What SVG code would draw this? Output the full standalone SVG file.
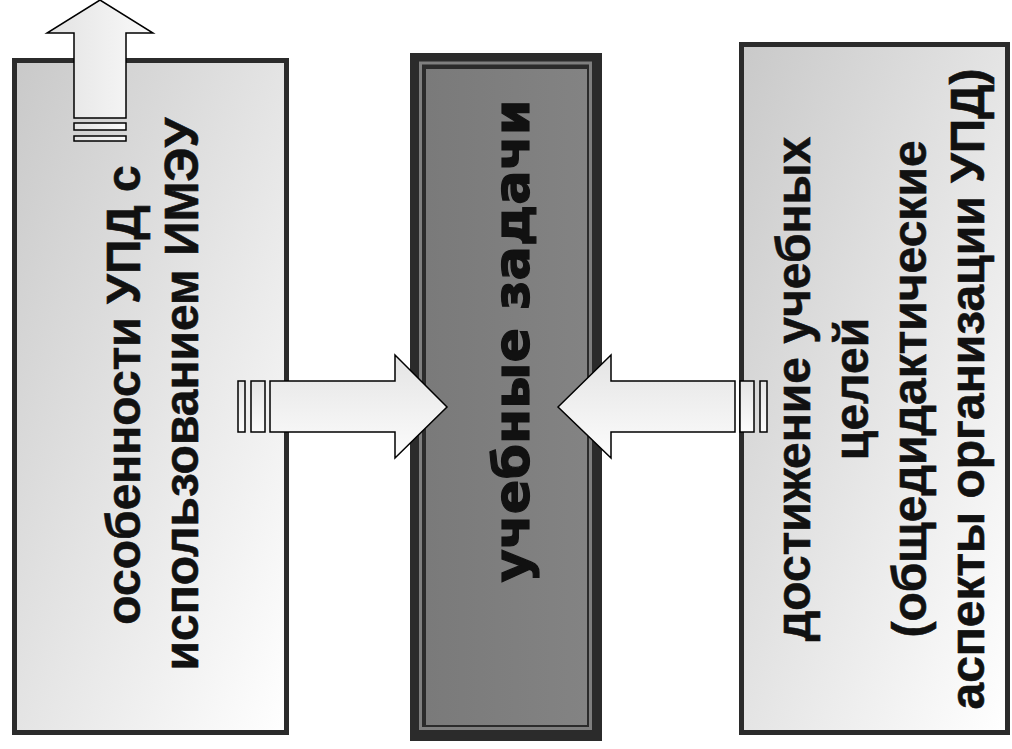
<svg xmlns="http://www.w3.org/2000/svg" width="1012" height="749" viewBox="0 0 1012 749">
<defs>
<linearGradient id="boxg" x1="0" y1="0" x2="1" y2="1">
<stop offset="0" stop-color="#c9c9c9"/>
<stop offset="1" stop-color="#ffffff"/>
</linearGradient>
<linearGradient id="midg" x1="0" y1="0" x2="1" y2="0">
<stop offset="0" stop-color="#7a7a7a"/>
<stop offset="1" stop-color="#838383"/>
</linearGradient>
<linearGradient id="arrh" x1="0" y1="0" x2="0" y2="1">
<stop offset="0" stop-color="#e4e4e4"/>
<stop offset="1" stop-color="#fcfcfc"/>
</linearGradient>
<linearGradient id="arrv" x1="0" y1="0" x2="1" y2="0">
<stop offset="0" stop-color="#e2e2e2"/>
<stop offset="1" stop-color="#fafafa"/>
</linearGradient>
</defs>
<style>
.box{fill:url(#boxg);stroke:#2b2b2b;stroke-width:5}
.t{font-family:"Liberation Sans",Arial,sans-serif;font-weight:bold;font-size:48px;fill:#111;stroke:#111;stroke-width:0.6;text-anchor:middle}
.tc{font-family:"DejaVu Sans","Liberation Sans",sans-serif;font-weight:bold;font-size:50px;fill:#111;stroke:#111;stroke-width:1.2;text-anchor:middle}
.ah{fill:url(#arrh);stroke:#000;stroke-width:1.5;stroke-linejoin:miter}
.av{fill:url(#arrv);stroke:#000;stroke-width:1.5;stroke-linejoin:miter}
</style>
<rect width="1012" height="749" fill="#fff"/>
<g id="left-node">
<rect class="box" x="14.5" y="60.5" width="272" height="672"/>
<text class="t" transform="translate(140,395) rotate(-90)">особенности УПД с</text>
<text class="t" transform="translate(198,394) rotate(-90)">использованием ИМЭУ</text>
</g>
<g id="center-node">
<rect x="410" y="53" width="192" height="688" fill="#2b2b2b"/>
<rect x="420.5" y="63" width="170" height="665.5" fill="none" stroke="#7f7f7f" stroke-width="3"/>
<rect x="426" y="69" width="161" height="656" fill="url(#midg)"/>
<text class="tc" transform="translate(529,341) rotate(-90)" textLength="483" lengthAdjust="spacingAndGlyphs">учебные задачи</text>
</g>
<g id="right-node">
<rect class="box" x="741.5" y="44.5" width="266" height="688"/>
<text class="t" transform="translate(810,389) rotate(-90)">достижение учебных</text>
<text class="t" transform="translate(868,389) rotate(-90)">целей</text>
<text class="t" transform="translate(926,389) rotate(-90)">(общедидактические</text>
<text class="t" transform="translate(984,389) rotate(-90)">аспекты организации УПД)</text>
</g>
<g id="connectors">
<polygon class="av" points="100,0 153,33 126,33 126,118 74,118 74,33 47,33"/>
<rect class="av" x="74" y="123" width="52" height="7"/>
<rect class="av" x="74" y="136" width="52" height="5"/>
<polygon class="ah" points="270,381 395,381 395,355 447,407 395,458 395,432 270,432"/>
<rect class="ah" x="238" y="381" width="7" height="51"/>
<rect class="ah" x="251" y="381" width="14" height="51"/>
<polygon class="ah" points="558,407 611,355 611,381 735,381 735,432 611,432 611,458"/>
<rect class="ah" x="740" y="381" width="14" height="51"/>
<rect class="ah" x="760" y="381" width="7" height="51"/>
</g>
</svg>
